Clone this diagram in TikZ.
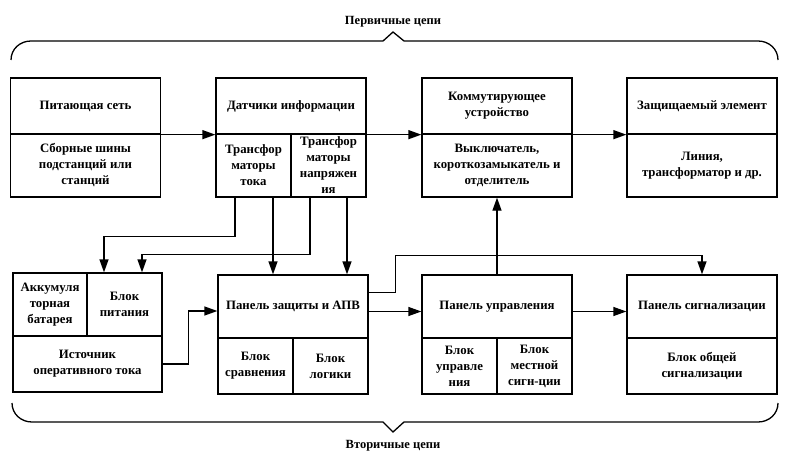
\documentclass[tikz,border=0pt]{standalone}
\usepackage{fontspec}
\setmainfont{Liberation Serif}
\usetikzlibrary{arrows.meta}

\tikzset{
		cell/.style={draw, line width=1.3pt, inner sep=1pt, align=center, font=\fontsize{12.8}{16}\selectfont\bfseries},
		wide/.style={cell, minimum width=150pt},
		half/.style={cell, minimum width=75pt},
		upper/.style={minimum height=56pt},
		lower/.style={minimum height=63pt},
		arrow/.style={-{Triangle[length=13pt,width=9pt]}, line width=1.3pt},
		brace/.style={line width=1.3pt},
		bracetext/.style={font=\fontsize{12.5}{16}\selectfont\bfseries}
	}

\begin{document}
\begin{tikzpicture}[x=1pt,y=-1pt]

\useasboundingbox (0,0) rectangle (785,460);

% primary row
\node (pt) at (85.5,106) [wide,upper] {Питающая сеть};
\node (pb) at (85.5,165.5) [wide,lower] {Сборные шины\\подстанций или\\станций};

\node (dt) at (291,106) [wide,upper] {Датчики информации};
\node (dta) at (253.5,165.5) [half,lower] {Трансфор\\маторы\\тока};
\node (dtb) at (328.5,165.5) [half,lower] {Трансфор\\маторы\\напряжен\\ия};

\node (kt) at (497,106) [wide,upper] {Коммутирующее\\устройство};
\node (kb) at (497,165.5) [wide,lower] {Выключатель,\\короткозамыкатель и\\отделитель};

\node (zt) at (702,106) [wide,upper] {Защищаемый элемент};
\node (zb) at (702,165.5) [wide,lower] {Линия,\\трансформатор и др.};

% secondary row
\node (ak) at (50,304.5) [half,lower,minimum width=74pt] {Аккумуля\\торная\\батарея};
\node (bp) at (124.5,304.5) [half,lower] {Блок\\питания};
\node (ist) at (87.5,364) [wide,upper,minimum width=149pt] {Источник\\оперативного тока};

\node (pz) at (293,306.5) [wide,lower] {Панель защиты и АПВ};
\node (bs) at (255.5,366) [half,upper] {Блок\\сравнения};
\node (bl) at (330.5,366) [half,upper] {Блок\\логики};

\node (pu) at (497,306.5) [wide,lower] {Панель управления};
\node (bu) at (459.5,366) [half,upper] {Блок\\управле\\ния};
\node (bm) at (534.5,366) [half,upper] {Блок\\местной\\сигн-ции};

\node (ps) at (702,306.5) [wide,lower] {Панель сигнализации};
\node (bo) at (702,366) [wide,upper] {Блок общей\\сигнализации};

% connections
\draw [arrow] (pt.south east) -- (dt.south west);
\draw [arrow] (dt.south east) -- (kt.south west);
\draw [arrow] (kt.south east) -- (zt.south west);

\draw [arrow] ([xshift=-18.5pt]dta.south) -- ++(0,39) -| ([xshift=-20.5pt]bp.north);
\draw [arrow] ([xshift=-18.5pt]dtb.south) -- ++(0,57) -| ([xshift=17.5pt]bp.north);
\draw [arrow] ([xshift=19.5pt]dta.south) -- ([xshift=19.5pt]dta.south |- pz.north);
\draw [arrow] ([xshift=18.5pt]dtb.south) -- ([xshift=18.5pt]dtb.south |- pz.north);

\draw [arrow] (ist.east) -- ++(26,0) |- ([yshift=-4.5pt]pz.west);
\draw [arrow] ([yshift=-5pt]pz.east) -- ([yshift=-5pt]pu.west);
\draw [arrow] ([yshift=14pt]pz.east) -- ++(27,0) -- ++(0,-37) -| (ps.north);
\draw [arrow] (pu.north) -- (kb.south);
\draw [arrow] ([yshift=-5pt]pu.east) -- ([yshift=-5pt]ps.west);

% braces
\draw [brace] (11,60) .. controls (11,49) and (20,41) .. (31,41) -- (383,41) -- (393,32) -- (404,41)
	-- (758,41) .. controls (769,41) and (778,49) .. (778,60);
\draw [brace] (12,403) .. controls (12,414) and (21,422) .. (32,422) -- (383,422) -- (393,432) -- (404,422)
	-- (758,422) .. controls (769,422) and (778,414) .. (778,403);

\node (prim) at (393,22) [bracetext] {Первичные цепи};
\node (sec) at (393,446) [bracetext] {Вторичные цепи};

\end{tikzpicture}
\end{document}
